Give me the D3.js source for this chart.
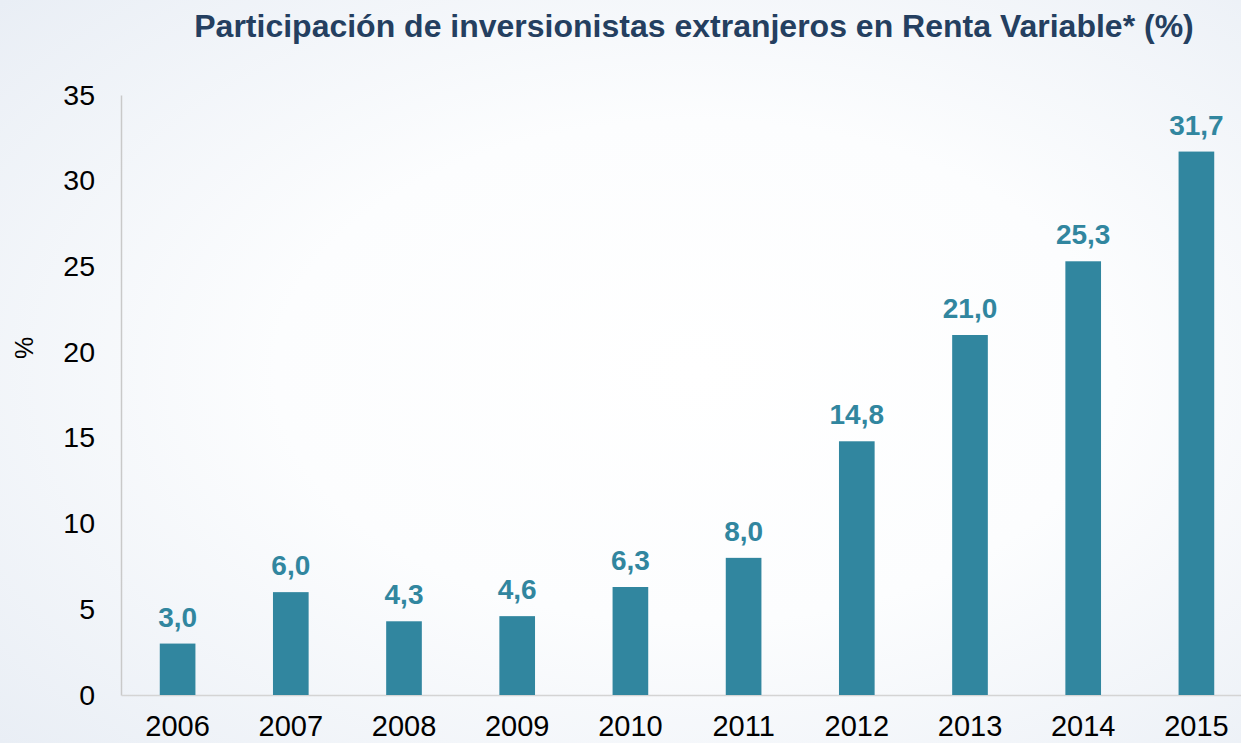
<!DOCTYPE html>
<html>
<head>
<meta charset="utf-8">
<script src="https://cdn.jsdelivr.net/npm/d3@7"></script>
<style>
  body { margin: 0; overflow: hidden; }
  svg { display: block; font-family: "Liberation Sans", Arial, sans-serif; }
</style>
</head>
<body>
<svg id="chart" width="1241" height="743"></svg>
<script>
// data
var years = ["2006", "2007", "2008", "2009", "2010", "2011", "2012", "2013", "2014", "2015"];
var values = [3.0, 6.0, 4.3, 4.6, 6.3, 8.0, 14.8, 21.0, 25.3, 31.7];
var yTicks = [0, 5, 10, 15, 20, 25, 30, 35];

var svg = d3.select("#chart"),
    width = +svg.attr("width"),
    height = +svg.attr("height");

var barColor = "#31869f";

// background gradient
var defs = svg.append("defs");
var grad = defs.append("radialGradient")
    .attr("id", "bg")
    .attr("cx", "56%").attr("cy", "50%").attr("r", "75%");
grad.append("stop").attr("offset", "0%").attr("stop-color", "#ffffff");
grad.append("stop").attr("offset", "45%").attr("stop-color", "#fcfdfe");
grad.append("stop").attr("offset", "100%").attr("stop-color", "#e9eef5");
svg.append("rect").attr("width", width).attr("height", height).attr("fill", "url(#bg)");

var margin = {left: 121, top: 95, bottom: 695};

var x = d3.scaleBand()
    .domain(years)
    .range([margin.left, margin.left + 113.2 * years.length])
    .paddingInner(0.685)
    .paddingOuter(0.3425);

var y = d3.scaleLinear()
    .domain([0, 35])
    .range([margin.bottom, margin.top]);

// title
svg.append("text")
    .attr("x", 694)
    .attr("y", 37)
    .attr("text-anchor", "middle")
    .attr("font-size", 32)
    .attr("font-weight", "bold")
    .attr("fill", "#243f60")
    .text("Participación de inversionistas extranjeros en Renta Variable* (%)");

// y axis
var yAxis = svg.append("g")
    .attr("transform", "translate(" + margin.left + ",0)")
    .call(d3.axisLeft(y).tickValues(yTicks).tickSize(0).tickPadding(26));
yAxis.select(".domain").attr("stroke", "#c9c9c9").attr("stroke-width", 1.5);
yAxis.selectAll("text")
    .attr("font-size", 28.5)
    .attr("fill", "#000")
    .attr("font-family", "Liberation Sans, Arial, sans-serif");

// x axis (labels sit at the very bottom edge, as in the original)
var xAxis = svg.append("g")
    .attr("transform", "translate(0," + margin.bottom + ")")
    .call(d3.axisBottom(x).tickSize(0).tickPadding(20));
xAxis.select(".domain").attr("stroke", "#d4d4d4").attr("stroke-width", 1.5);
xAxis.selectAll("text")
    .attr("font-size", 29)
    .attr("fill", "#000")
    .attr("font-family", "Liberation Sans, Arial, sans-serif");

// y label
svg.append("text")
    .attr("transform", "translate(33,348) rotate(-90)")
    .attr("text-anchor", "middle")
    .attr("font-size", 25)
    .attr("fill", "#000")
    .text("%");

// bars
svg.append("g").selectAll("rect")
    .data(values)
    .enter().append("rect")
    .attr("x", function(d, i) { return x(years[i]); })
    .attr("y", function(d) { return y(d); })
    .attr("width", x.bandwidth())
    .attr("height", function(d) { return y(0) - y(d); })
    .attr("fill", barColor);

// value labels
svg.append("g").selectAll("text")
    .data(values)
    .enter().append("text")
    .attr("x", function(d, i) { return x(years[i]) + x.bandwidth() / 2; })
    .attr("y", function(d) { return y(d) - 17; })
    .attr("text-anchor", "middle")
    .attr("font-size", 28)
    .attr("font-weight", "bold")
    .attr("fill", barColor)
    .text(function(d) { return d3.format(".1f")(d).replace(".", ","); });
</script>
</body>
</html>
